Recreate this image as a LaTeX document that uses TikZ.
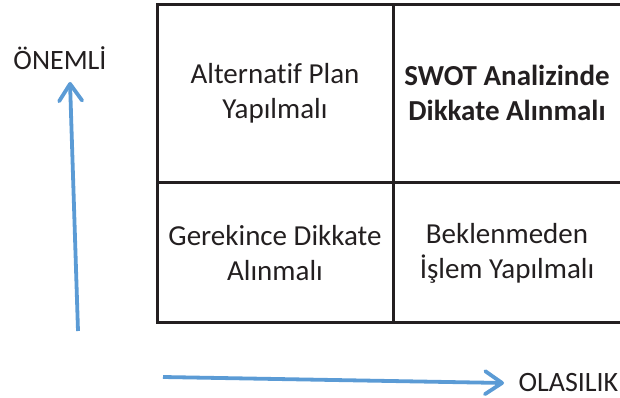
\documentclass[tikz,border=0pt]{standalone}
\usepackage{fontspec}
\setmainfont{Carlito}[Ligatures=NoCommon]
\usetikzlibrary{arrows.meta}
\definecolor{gridline}{HTML}{231F20}
\definecolor{textdark}{HTML}{231F20}
\definecolor{axisblue}{HTML}{5B9BD5}
\begin{document}
\begin{tikzpicture}[x=1pt,y=-1pt,
  cell/.style={align=center,text=textdark,font=\fontsize{29}{35}\selectfont,inner sep=0pt},
  axislabel/.style={text=textdark,font=\fontsize{28}{34}\selectfont,inner sep=0pt},
  gridstroke/.style={draw=gridline,line width=3pt},
  axisarrow/.style={draw=axisblue,line width=3.8pt,
    -{Straight Barb[length=17pt,width=23pt,line width=3.8pt,round]}}]
\useasboundingbox (0,0) rectangle (620,398);
% grid of the four quadrants
\draw[gridstroke] (620,4.5) -- (157,4.5) -- (157,322.5) -- (620,322.5);
\draw[gridstroke] (157,182.5) -- (620,182.5);
\draw[gridstroke] (393,4.5) -- (393,322.5);
% quadrant texts
\node[cell] (tl) at (275,93) {Alternatif Plan\\Yapılmalı};
\node[cell,font=\fontsize{29}{35}\selectfont\bfseries] (tr) at (507,93) {SWOT Analizinde\\Dikkate Alınmalı};
\node[cell] (bl) at (275,253) {Gerekince Dikkate\\Alınmalı};
\node[cell] (br) at (507,253) {Beklenmeden\\İşlem Yapılmalı};
% axes
\node[axislabel,anchor=east] (olasilik) at (618.5,383) {OLASILIK};
\node[axislabel] (onemli) at (60,58) {ÖNEMLİ};
\coordinate (ystart) at (78,331);
\coordinate (yend) at (70,82);
\coordinate (xstart) at (163,377);
\coordinate (xend) at (504,383);
\draw[axisarrow] (ystart) -- (yend);
\draw[axisarrow] (xstart) -- (xend);
\end{tikzpicture}
\end{document}
